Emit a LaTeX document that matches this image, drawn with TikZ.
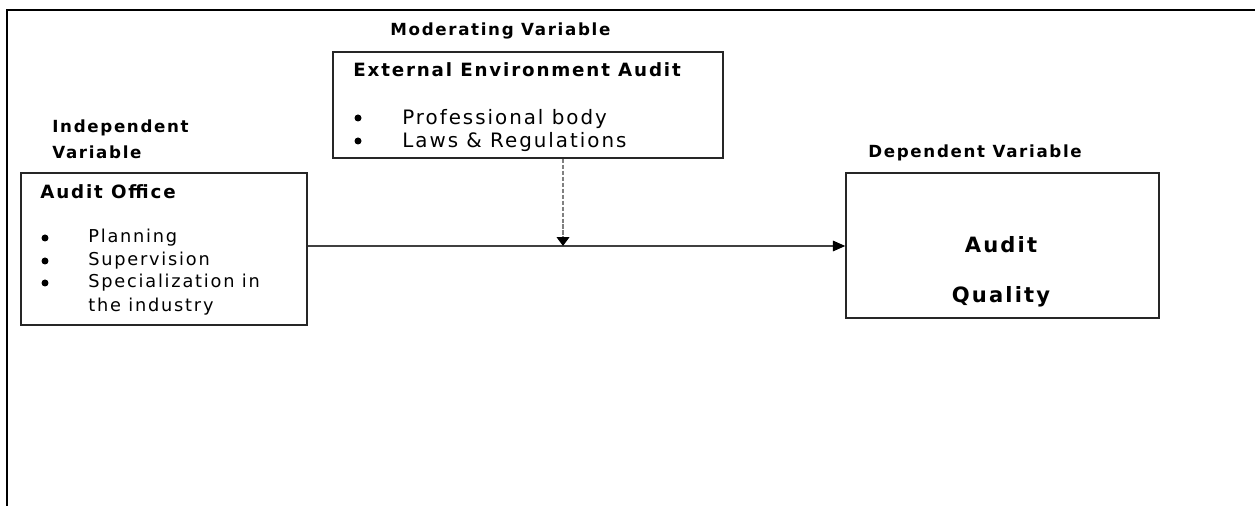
\documentclass[tikz,border=0pt]{standalone}
\usepackage{fontspec}
\setmainfont{DejaVu Sans}[LetterSpace=10]
\usetikzlibrary{arrows.meta, positioning, calc}

\tikzset{
  varbox/.style={draw=black!85, line width=0.9pt, inner sep=0pt},
  varlabel/.style={font=\fontsize{9.5}{11}\selectfont\bfseries, inner sep=0pt, anchor=base west},
  boxtitle/.style={font=\fontsize{10.4}{12}\selectfont\bfseries, inner sep=0pt, anchor=base west},
  itemtext/.style={font=\fontsize{#1}{12}\selectfont, inner sep=0pt, anchor=base west},
  bulletmark/.style={circle, fill=black, inner sep=0pt, minimum size=0.14cm},
  flow/.style={draw=black!75, line width=0.8pt, -{Triangle[length=7pt, width=6pt, color=black]}},
  modflow/.style={draw=black!50, line width=1.6pt, dash pattern=on 2.3pt off 1.1pt,
    -{Triangle[length=5pt, width=7pt, color=black]}}
}

\begin{document}
\begin{tikzpicture}[x=0.02cm, y=-0.02cm]
  \useasboundingbox (0,0) rectangle (1255,506);

  % outer frame (left and top only)
  \draw[line width=1.3pt] (7,506) -- (7,10) -- (1255,10);

  % boxes
  \node[varbox, minimum width=5.72cm, minimum height=3.04cm] (office) at (164,249) {};
  \node[varbox, minimum width=7.8cm, minimum height=2.12cm] (extenv) at (528,105) {};
  \node[varbox, minimum width=6.26cm, minimum height=2.9cm] (quality) at (1002.5,245.5) {};

  % variable labels
  \node[varlabel] (modlbl) at (390,36) {Moderating Variable};
  \node[varlabel] (indlbl) at (52,133) {Independent};
  \node[varlabel] (indlbl2) at (52,159) {Variable};
  \node[varlabel] (deplbl) at (868,158) {Dependent Variable};

  % moderating variable
  \node[boxtitle] (exttitle) at (353,77) {External Environment Audit};
  \foreach \y/\txt in {125/Professional body, 148/Laws \& Regulations} {
    \node[bulletmark] at (358,\y-7) {};
    \node[itemtext=11.3] at (402,\y) {\txt};
  }

  % independent variable
  \node[boxtitle] (officetitle) at (40,199) {Audit Office};
  \foreach \y/\txt in {243/Planning, 266/Supervision, 288/Specialization in} {
    \node[bulletmark] at (45,\y-5) {};
    \node[itemtext=10.1] at (88,\y) {\txt};
  }
  \node[itemtext=10.1] (officeitem) at (88,312) {the industry};

  % dependent variable
  \node[font=\fontsize{12}{14}\selectfont\bfseries, inner sep=0pt, anchor=base] (qualtop) at (1001,253) {Audit};
  \node[font=\fontsize{12}{14}\selectfont\bfseries, inner sep=0pt, anchor=base] (qualbot) at (1001,303) {Quality};

  % connectors
  \coordinate (join) at (563,246);
  \draw[flow] (office.east |- join) -- (quality.west |- join);
  \draw[modflow] (extenv.south -| join) -- (join);
\end{tikzpicture}
\end{document}
